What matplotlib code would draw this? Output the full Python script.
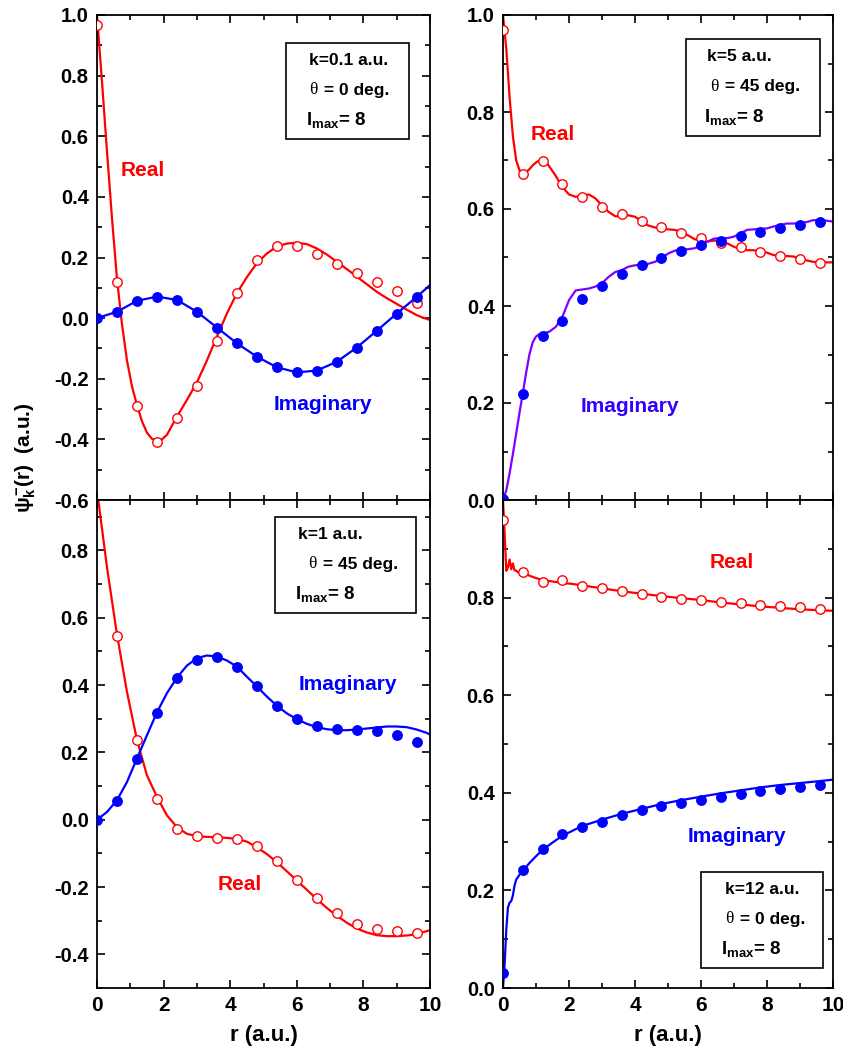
import matplotlib
matplotlib.use("Agg")
import matplotlib.pyplot as plt
from matplotlib.patches import Rectangle
from matplotlib.ticker import MultipleLocator

plt.rcParams['font.family'] = ['Liberation Sans', 'DejaVu Sans']
plt.rcParams['font.weight'] = 'bold'
plt.rcParams['mathtext.fontset'] = 'custom'
plt.rcParams['mathtext.rm'] = 'Liberation Sans:bold'
plt.rcParams['mathtext.it'] = 'Liberation Sans:bold'
plt.rcParams['mathtext.bf'] = 'Liberation Sans:bold'

# ---------------- data ----------------
r_pts = [0.0, 0.6, 1.2, 1.8, 2.4, 3.0, 3.6, 4.2, 4.8, 5.4, 6.0, 6.6, 7.2, 7.8, 8.4, 9.0, 9.6]

# panel a: k=0.1, theta=0
a_real_pts = [0.967, 0.118, -0.290, -0.408, -0.331, -0.223, -0.074, 0.082, 0.192, 0.238,
              0.238, 0.212, 0.179, 0.148, 0.120, 0.091, 0.051]
a_imag_pts = [0.0, 0.021, 0.057, 0.071, 0.060, 0.021, -0.031, -0.083, -0.127, -0.162,
              -0.179, -0.173, -0.144, -0.097, -0.042, 0.015, 0.070]
a_real_x = [0.0, 0.15, 0.3, 0.45, 0.6, 0.75, 0.9, 1.05, 1.2, 1.35, 1.5, 1.65, 1.8, 1.95, 2.1, 2.4, 2.7,
            3.0, 3.3, 3.6, 3.9, 4.2, 4.5, 4.8, 5.1, 5.4, 5.7, 6.0, 6.3, 6.6, 6.9, 7.2, 7.5, 7.8,
            8.1, 8.4, 8.7, 9.0, 9.3, 9.6, 9.8, 10.0]
a_real_line = [1.0, 0.78, 0.55, 0.33, 0.13, -0.02, -0.14, -0.225, -0.287, -0.34, -0.378, -0.398,
               -0.405, -0.40, -0.385, -0.325, -0.27, -0.212, -0.14, -0.061, 0.015, 0.082, 0.135,
               0.181, 0.213, 0.236, 0.246, 0.249, 0.244, 0.230, 0.210, 0.186, 0.162, 0.137,
               0.112, 0.087, 0.066, 0.047, 0.028, 0.010, 0.001, -0.006]
a_imag_x = r_pts + [10.0]
a_imag_line = a_imag_pts + [0.109]

# panel b: k=5, theta=45
b_real_pts = [0.970, 0.672, 0.698, 0.651, 0.625, 0.605, 0.589, 0.576, 0.562, 0.550,
              0.541, 0.529, 0.522, 0.512, 0.504, 0.497, 0.489]
b_imag_pts = [0.003, 0.218, 0.339, 0.370, 0.414, 0.441, 0.465, 0.484, 0.500, 0.513,
              0.526, 0.535, 0.544, 0.553, 0.560, 0.567, 0.574]
b_x = [0.0, 0.1, 0.2, 0.3, 0.4, 0.5, 0.6, 0.7, 0.8, 0.9, 1.0, 1.1, 1.2, 1.3, 1.4, 1.6, 1.8, 2.0,
       2.2, 2.4, 2.6, 2.8, 3.0, 3.2, 3.4, 3.6, 3.8, 4.0, 4.2, 4.4, 4.6, 4.8, 5.0, 5.2, 5.4,
       5.6, 5.8, 6.0, 6.2, 6.4, 6.6, 6.8, 7.0, 7.2, 7.4, 7.6, 7.8, 8.0, 8.2, 8.4, 8.6, 8.8,
       9.0, 9.2, 9.4, 9.6, 9.8, 10.0]
b_real_line = [1.0, 0.93, 0.83, 0.75, 0.70, 0.68, 0.674, 0.676, 0.682, 0.690, 0.696, 0.700,
               0.701, 0.697, 0.688, 0.668, 0.645, 0.630, 0.625, 0.628, 0.630, 0.622, 0.607,
               0.594, 0.585, 0.585, 0.587, 0.584, 0.575, 0.566, 0.562, 0.561, 0.558, 0.557,
               0.553, 0.546, 0.538, 0.534, 0.533, 0.535, 0.534, 0.529, 0.522, 0.517, 0.515,
               0.515, 0.513, 0.510, 0.505, 0.503, 0.503, 0.502, 0.499, 0.494, 0.491, 0.490,
               0.490, 0.490]
b_imag_line = [0.0, 0.02, 0.055, 0.095, 0.137, 0.18, 0.22, 0.262, 0.30, 0.325, 0.337, 0.342,
               0.344, 0.345, 0.347, 0.357, 0.378, 0.412, 0.432, 0.434, 0.436, 0.440, 0.447,
               0.460, 0.470, 0.474, 0.481, 0.484, 0.485, 0.487, 0.491, 0.498, 0.508, 0.514,
               0.517, 0.517, 0.519, 0.524, 0.533, 0.539, 0.540, 0.540, 0.543, 0.550, 0.557,
               0.558, 0.559, 0.560, 0.564, 0.567, 0.570, 0.570, 0.571, 0.573, 0.577, 0.577,
               0.576, 0.574]

# panel c: k=1, theta=45
c_real_pts = [0.97, 0.545, 0.237, 0.062, -0.027, -0.049, -0.054, -0.057, -0.079, -0.123,
              -0.179, -0.234, -0.278, -0.310, -0.325, -0.332, -0.338]
c_imag_pts = [0.0, 0.056, 0.179, 0.316, 0.422, 0.476, 0.483, 0.454, 0.396, 0.339,
              0.298, 0.278, 0.271, 0.268, 0.263, 0.251, 0.230]
c_x = [0.0, 0.3, 0.6, 0.9, 1.2, 1.5, 1.8, 2.1, 2.4, 2.7, 3.0, 3.3, 3.6, 3.9, 4.2, 4.5, 4.8,
       5.1, 5.4, 5.7, 6.0, 6.3, 6.6, 6.9, 7.2, 7.5, 7.8, 8.1, 8.4, 8.7, 9.0, 9.3, 9.6, 9.9, 10.0]
c_real_line = [0.98, 0.75, 0.55, 0.38, 0.237, 0.132, 0.068, 0.013, -0.022, -0.042, -0.049,
               -0.051, -0.052, -0.054, -0.057, -0.065, -0.082, -0.102, -0.126, -0.153, -0.181,
               -0.208, -0.236, -0.262, -0.285, -0.306, -0.323, -0.335, -0.343, -0.346, -0.346,
               -0.344, -0.340, -0.331, -0.328]
c_imag_line = [0.0, 0.023, 0.058, 0.112, 0.182, 0.251, 0.319, 0.376, 0.422, 0.458, 0.480,
               0.488, 0.485, 0.473, 0.455, 0.425, 0.396, 0.366, 0.339, 0.316, 0.299, 0.285,
               0.275, 0.269, 0.266, 0.266, 0.268, 0.271, 0.274, 0.277, 0.277, 0.275, 0.268,
               0.258, 0.253]

# panel d: k=12, theta=0
d_real_pts = [0.959, 0.853, 0.832, 0.837, 0.824, 0.819, 0.814, 0.807, 0.801, 0.798,
              0.795, 0.791, 0.788, 0.785, 0.783, 0.780, 0.777]
d_imag_pts = [0.031, 0.242, 0.284, 0.316, 0.330, 0.341, 0.354, 0.364, 0.373, 0.379,
              0.386, 0.391, 0.397, 0.403, 0.407, 0.411, 0.416]
d_x = [0.0, 0.05, 0.1, 0.15, 0.2, 0.25, 0.3, 0.35, 0.4, 0.5, 0.6, 0.8, 1.0, 1.2, 1.5, 1.8,
       2.1, 2.4, 3.0, 3.6, 4.2, 4.8, 5.4, 6.0, 6.6, 7.2, 7.8, 8.4, 9.0, 9.6, 10.0]
d_real_line = [1.0, 0.93, 0.855, 0.862, 0.878, 0.858, 0.870, 0.856, 0.855, 0.850, 0.852,
               0.845, 0.840, 0.836, 0.833, 0.830, 0.828, 0.825, 0.819, 0.813, 0.808, 0.803,
               0.799, 0.795, 0.790, 0.786, 0.782, 0.779, 0.776, 0.774, 0.773]
d_imag_line = [0.0, 0.05, 0.12, 0.165, 0.175, 0.178, 0.19, 0.21, 0.222, 0.232, 0.240, 0.256,
               0.270, 0.283, 0.298, 0.312, 0.322, 0.332, 0.345, 0.357, 0.367, 0.377, 0.385,
               0.392, 0.399, 0.405, 0.411, 0.416, 0.420, 0.424, 0.427]

x_ticks = [0, 2, 4, 6, 8, 10]
x_tick_labels = ['0', '2', '4', '6', '8', '10']

# ---------------- figure ----------------
W, H = 843, 1046
fig = plt.figure(figsize=(W / 100, H / 100), dpi=100)


def fx(px):
    return px / W


def fy(py):
    return 1 - py / H


def make_ax(x0, x1, y0, y1):
    return fig.add_axes([fx(x0), fy(y1), fx(x1) - fx(x0), fy(y0) - fy(y1)])


ax_a = make_ax(97, 430, 15, 500)
ax_b = make_ax(503, 833, 15, 500)
ax_c = make_ax(97, 430, 500, 988)
ax_d = make_ax(503, 833, 500, 988)

RED = '#FF0000'
BLUE = '#0000FF'
VIOLET = '#8000FF'

ms = 6.8


def draw(ax, xr, yr, xi, yi, rp, ip, imag_line_color):
    ax.plot(xr, yr, color=RED, lw=1.6, zorder=2)
    ax.plot(xi, yi, color=imag_line_color, lw=1.6, zorder=2)
    ax.plot(r_pts, rp, 'o', ms=ms, mfc='white', mec=RED, mew=1.0, zorder=3)
    ax.plot(r_pts, ip, 'o', ms=ms, mfc=BLUE, mec=BLUE, mew=1.0, zorder=3)


draw(ax_a, a_real_x, a_real_line, a_imag_x, a_imag_line, a_real_pts, a_imag_pts, BLUE)
draw(ax_b, b_x, b_real_line, b_x, b_imag_line, b_real_pts, b_imag_pts, VIOLET)
draw(ax_c, c_x, c_real_line, c_x, c_imag_line, c_real_pts, c_imag_pts, BLUE)
draw(ax_d, d_x, d_real_line, d_x, d_imag_line, d_real_pts, d_imag_pts, BLUE)

ax_a.set_ylim(-0.6, 1.0)
ax_b.set_ylim(0.0, 1.0)
ax_c.set_ylim(-0.5, 0.95)
ax_d.set_ylim(0.0, 1.0)

tick_fs = 14.5
for ax in (ax_a, ax_b, ax_c, ax_d):
    ax.set_xlim(0, 10)
    ax.xaxis.set_major_locator(MultipleLocator(2))
    ax.xaxis.set_minor_locator(MultipleLocator(1))
    ax.yaxis.set_major_locator(MultipleLocator(0.2))
    ax.yaxis.set_minor_locator(MultipleLocator(0.1))
    ax.tick_params(which='both', direction='in', top=True, right=True, width=1.2)
    ax.tick_params(which='major', length=6)
    ax.tick_params(which='minor', length=3.5)
    ax.tick_params(labelsize=tick_fs, pad=6)
    for s in ax.spines.values():
        s.set_linewidth(1.3)

ax_a.set_yticks([-0.6, -0.4, -0.2, 0.0, 0.2, 0.4, 0.6, 0.8, 1.0])
ax_a.set_yticklabels(['-0.6', '-0.4', '-0.2', '0.0', '0.2', '0.4', '0.6', '0.8', '1.0'])
ax_b.set_yticks([0.0, 0.2, 0.4, 0.6, 0.8, 1.0])
ax_b.set_yticklabels(['0.0', '0.2', '0.4', '0.6', '0.8', '1.0'])
ax_c.set_yticks([-0.4, -0.2, 0.0, 0.2, 0.4, 0.6, 0.8])
ax_c.set_yticklabels(['-0.4', '-0.2', '0.0', '0.2', '0.4', '0.6', '0.8'])
ax_d.set_yticks([0.0, 0.2, 0.4, 0.6, 0.8, 1.0])
ax_d.set_yticklabels(['0.0', '0.2', '0.4', '0.6', '0.8', ''])

for ax in (ax_a, ax_b):
    ax.tick_params(labelbottom=False)

narrow = ['Liberation Sans Narrow', 'Liberation Sans', 'DejaVu Sans']
for ax in (ax_c, ax_d):
    ax.set_xticks(x_ticks)
    ax.set_xticklabels(x_tick_labels, fontsize=15, fontweight='bold', family=narrow)
    ax.set_xlabel('r (a.u.)', fontsize=16, fontweight='bold', labelpad=7, family=narrow)

for ax in (ax_a, ax_b, ax_c, ax_d):
    for lab in ax.get_yticklabels():
        lab.set_fontweight('bold')

# axis label
fig.text(fx(26), fy(458), r'$\psi_k^{-}(r)$  (a.u.)', rotation=90, ha='center', va='center',
         fontsize=15, fontweight='bold')

# series labels
lab_fs = 15
fig.text(fx(143), fy(170), 'Real', color=RED, fontsize=lab_fs, fontweight='bold', ha='center', va='center')
fig.text(fx(323), fy(405), 'Imaginary', color=BLUE, fontsize=lab_fs, fontweight='bold', ha='center', va='center')
fig.text(fx(553), fy(135), 'Real', color=RED, fontsize=lab_fs, fontweight='bold', ha='center', va='center')
fig.text(fx(630), fy(407), 'Imaginary', color='#3300FF', fontsize=lab_fs, fontweight='bold', ha='center', va='center')
fig.text(fx(240), fy(884), 'Real', color=RED, fontsize=lab_fs, fontweight='bold', ha='center', va='center')
fig.text(fx(348), fy(685), 'Imaginary', color=BLUE, fontsize=lab_fs, fontweight='bold', ha='center', va='center')
fig.text(fx(732), fy(562), 'Real', color=RED, fontsize=lab_fs, fontweight='bold', ha='center', va='center')
fig.text(fx(737), fy(837), 'Imaginary', color=BLUE, fontsize=lab_fs, fontweight='bold', ha='center', va='center')


# info boxes
def info_box(x0, y0, x1, y1, k_text, th_text, kx, thx, lx):
    fig.patches.append(Rectangle((fx(x0), fy(y1)), fx(x1) - fx(x0), fy(y0) - fy(y1),
                                 transform=fig.transFigure, fill=False, ec='black', lw=1.2))
    h = y1 - y0
    fs = 12.5
    fig.text(fx(kx), fy(y0 + 0.18 * h), k_text, fontsize=fs, fontweight='bold', ha='left', va='center')
    fig.text(fx(thx), fy(y0 + 0.49 * h), 'θ', fontsize=fs, ha='left', va='center',
             family=['Liberation Serif', 'DejaVu Serif'], fontweight='normal')
    fig.text(fx(thx + 10), fy(y0 + 0.49 * h), th_text, fontsize=fs, fontweight='bold', ha='left', va='center')
    fig.text(fx(lx), fy(y0 + 0.80 * h), r'$\mathbf{l_{max}}$= 8', fontsize=fs + 1, fontweight='bold',
             ha='left', va='center')


info_box(286, 43, 409, 139, 'k=0.1 a.u.', ' = 0 deg.', 309, 309, 306)
info_box(686, 39, 820, 136, 'k=5 a.u.', ' = 45 deg.', 707, 710, 704)
info_box(275, 517, 416, 613, 'k=1 a.u.', ' = 45 deg.', 298, 308, 295)
info_box(701, 872, 823, 968, 'k=12 a.u.', ' = 0 deg.', 725, 725, 721)

fig.savefig('out.png', dpi=100)
